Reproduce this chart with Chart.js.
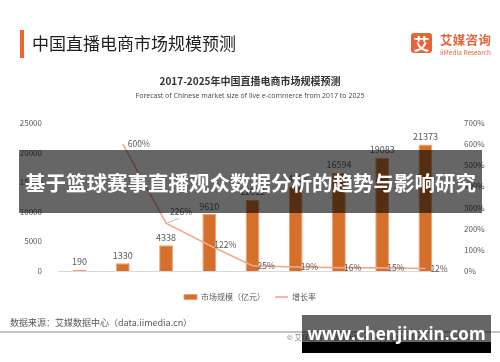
<!DOCTYPE html>
<html>
<head>
<meta charset="utf-8">
<script src="https://cdn.jsdelivr.net/npm/chart.js@4/dist/chart.umd.min.js"></script>
<style>
  body { margin: 0; background: #fff; }
  #wrap { position: relative; width: 500px; height: 362px; overflow: hidden; font-family: "Noto Sans CJK SC", "Open Sans", sans-serif; }
  #chart { position: absolute; left: 0; top: 0; }
  .abs { position: absolute; white-space: nowrap; }
  #titleBar { left: 20px; top: 30px; width: 4px; height: 28px; background: #f26430; }
  #title { left: 32px; top: 31px; font-size: 17px; line-height: 24px; color: #1e1e1e; }
  #logoBox { left: 411px; top: 33px; width: 21px; height: 20px; background: #e8623a; border-radius: 3px; color: #fff; font-size: 16px; font-weight: bold; line-height: 20px; text-align: center; }
  #logoCn { left: 440px; top: 32px; font-size: 12.5px; line-height: 16px; color: #e8623a; font-weight: bold; letter-spacing: 0.3px; }
  #logoEn { left: 440px; top: 48px; font-size: 6.5px; line-height: 8px; color: #e8623a; }
  #sub1 { left: 0; width: 500px; text-align: center; top: 74px; font-size: 10px; line-height: 14px; font-weight: bold; color: #333; }
  #sub2 { left: 0; width: 500px; text-align: center; top: 91px; font-size: 7px; line-height: 10px; color: #444; font-family: "Open Sans", sans-serif; }
  #source { left: 10px; top: 317px; font-size: 9px; line-height: 12px; color: #595959; }
  #rule { left: 0; top: 331px; width: 500px; height: 2px; background: #c4c4c4; }
  #copy { left: 287px; top: 333px; font-size: 7px; line-height: 9px; color: #777; }
  #banner { left: 19px; top: 150px; width: 463px; height: 63px; background: rgba(0,0,0,0.6); color: #fff; font-size: 20.5px; font-weight: bold; line-height: 64px; text-align: center; }
  #wmTop { left: 302px; top: 315px; width: 189px; height: 27px; background: rgba(0,0,0,0.6); }
  #wmBot { left: 302px; top: 342px; width: 189px; height: 11px; background: #000; }
  #wmText { left: 302px; top: 321px; width: 189px; text-align: center; color: #fff; font-size: 17px; line-height: 26px; font-weight: bold; font-family: "Open Sans", sans-serif; }
</style>
</head>
<body>
<div id="wrap">
  <canvas id="chart" width="500" height="362"></canvas>
  <div class="abs" id="titleBar"></div>
  <div class="abs" id="title">中国直播电商市场规模预测</div>
  <div class="abs" id="logoBox">艾</div>
  <div class="abs" id="logoCn">艾媒咨询</div>
  <div class="abs" id="logoEn">iiMedia Research</div>
  <div class="abs" id="sub1">2017-2025年中国直播电商市场规模预测</div>
  <div class="abs" id="sub2">Forecast of Chinese market size of live e-commerce from 2017 to 2025</div>
  <div class="abs" id="source">数据来源：艾媒数据中心（data.iimedia.cn）</div>
  <div class="abs" id="rule"></div>
  <div class="abs" id="copy">© 艾媒咨询 · 版权所有 · Copyright iiMedia Research Inc</div>
  <div class="abs" id="banner">基于篮球赛事直播观众数据分析的趋势与影响研究</div>
  <div class="abs" id="wmTop"></div>
  <div class="abs" id="wmBot"></div>
  <div class="abs" id="wmText">www.chenjinxin.com</div>
</div>
<script>
// Data
const years = ['2017', '2018', '2019', '2020', '2021', '2022 E', '2023 E', '2024 E', '2025 E'];
const marketSize = [190, 1330, 4338, 9610, 12012, 14297, 16594, 19083, 21373];
const growthRate = [null, 600, 226, 122, 25, 19, 16, 15, 12];
const sizeLabel = '市场规模（亿元）';
const rateLabel = '增长率';

const barColor = '#d5702c';
const lineColor = '#f4a988';
const textGray = '#595959';

Chart.defaults.font.family = '"Noto Sans CJK SC", "Open Sans", sans-serif';
Chart.defaults.color = textGray;

// Value labels above bars and beside line points
const valueLabels = {
    id: 'valueLabels',
    afterDatasetsDraw(chart) {
        const ctx = chart.ctx;
        ctx.save();
        ctx.font = '9px "Noto Sans CJK SC", sans-serif';
        ctx.fillStyle = textGray;
        ctx.textAlign = 'center';
        ctx.textBaseline = 'middle';
        chart.getDatasetMeta(0).data.forEach((bar, i) => {
            ctx.fillText(String(marketSize[i]), bar.x, bar.y - 8);
        });

        ctx.font = '8.5px "Noto Sans CJK SC", sans-serif';
        ctx.textAlign = 'left';
        chart.getDatasetMeta(1).data.forEach((pt, i) => {
            if (growthRate[i] == null) return;
            let x = pt.x + 5;
            let y = pt.y;
            if (i === 2) {
                // label pushed up with a small leader line
                ctx.strokeStyle = '#bfbfbf';
                ctx.lineWidth = 1;
                ctx.beginPath();
                ctx.moveTo(pt.x + 1, pt.y);
                ctx.lineTo(pt.x + 13, pt.y - 5);
                ctx.stroke();
                x = pt.x + 4;
                y = pt.y - 11;
            }
            ctx.fillText(growthRate[i] + '%', x, y);
        });
        ctx.restore();
    }
};

new Chart(document.getElementById('chart'), {
    type: 'bar',
    data: {
        labels: years,
        datasets: [
            {
                label: sizeLabel,
                data: marketSize,
                backgroundColor: barColor,
                borderColor: '#eea271',
                borderWidth: 1,
                barPercentage: 0.64,
                categoryPercentage: 0.5,
                pointStyle: 'rect',
                yAxisID: 'y',
                order: 2
            },
            {
                type: 'line',
                label: rateLabel,
                data: growthRate,
                borderColor: lineColor,
                backgroundColor: lineColor,
                borderWidth: 1.6,
                pointRadius: 0,
                pointStyle: 'line',
                tension: 0,
                yAxisID: 'y1',
                order: 1
            }
        ]
    },
    options: {
        responsive: false,
        animation: false,
        devicePixelRatio: 1,
        layout: { padding: { top: 123, left: 0, right: 0, bottom: 51 } },
        plugins: {
            tooltip: { enabled: false },
            legend: {
                position: 'bottom',
                labels: {
                    usePointStyle: true,
                    pointStyleWidth: 13,
                    boxHeight: 5,
                    padding: 10,
                    font: { size: 8 },
                    color: textGray,
                    sort: (a, b) => a.datasetIndex - b.datasetIndex
                }
            }
        },
        scales: {
            x: {
                grid: { display: false },
                border: { display: true, color: '#d9d9d9' },
                ticks: { font: { size: 8 }, color: textGray, padding: 4 },
                afterFit: (s) => { s.height = 12; }
            },
            y: {
                position: 'left',
                min: 0,
                max: 25000,
                grid: { display: false },
                border: { display: false },
                ticks: { stepSize: 5000, font: { size: 8 }, color: textGray, padding: 8, callback: (v) => String(v) },
                afterFit: (s) => { s.width = 58; }
            },
            y1: {
                position: 'right',
                min: 0,
                max: 700,
                grid: { display: false },
                border: { display: false },
                ticks: { stepSize: 100, font: { size: 8 }, color: textGray, padding: 9, callback: (v) => v + '%' },
                afterFit: (s) => { s.width = 53; }
            }
        }
    },
    plugins: [valueLabels]
});
</script>
</body>
</html>
